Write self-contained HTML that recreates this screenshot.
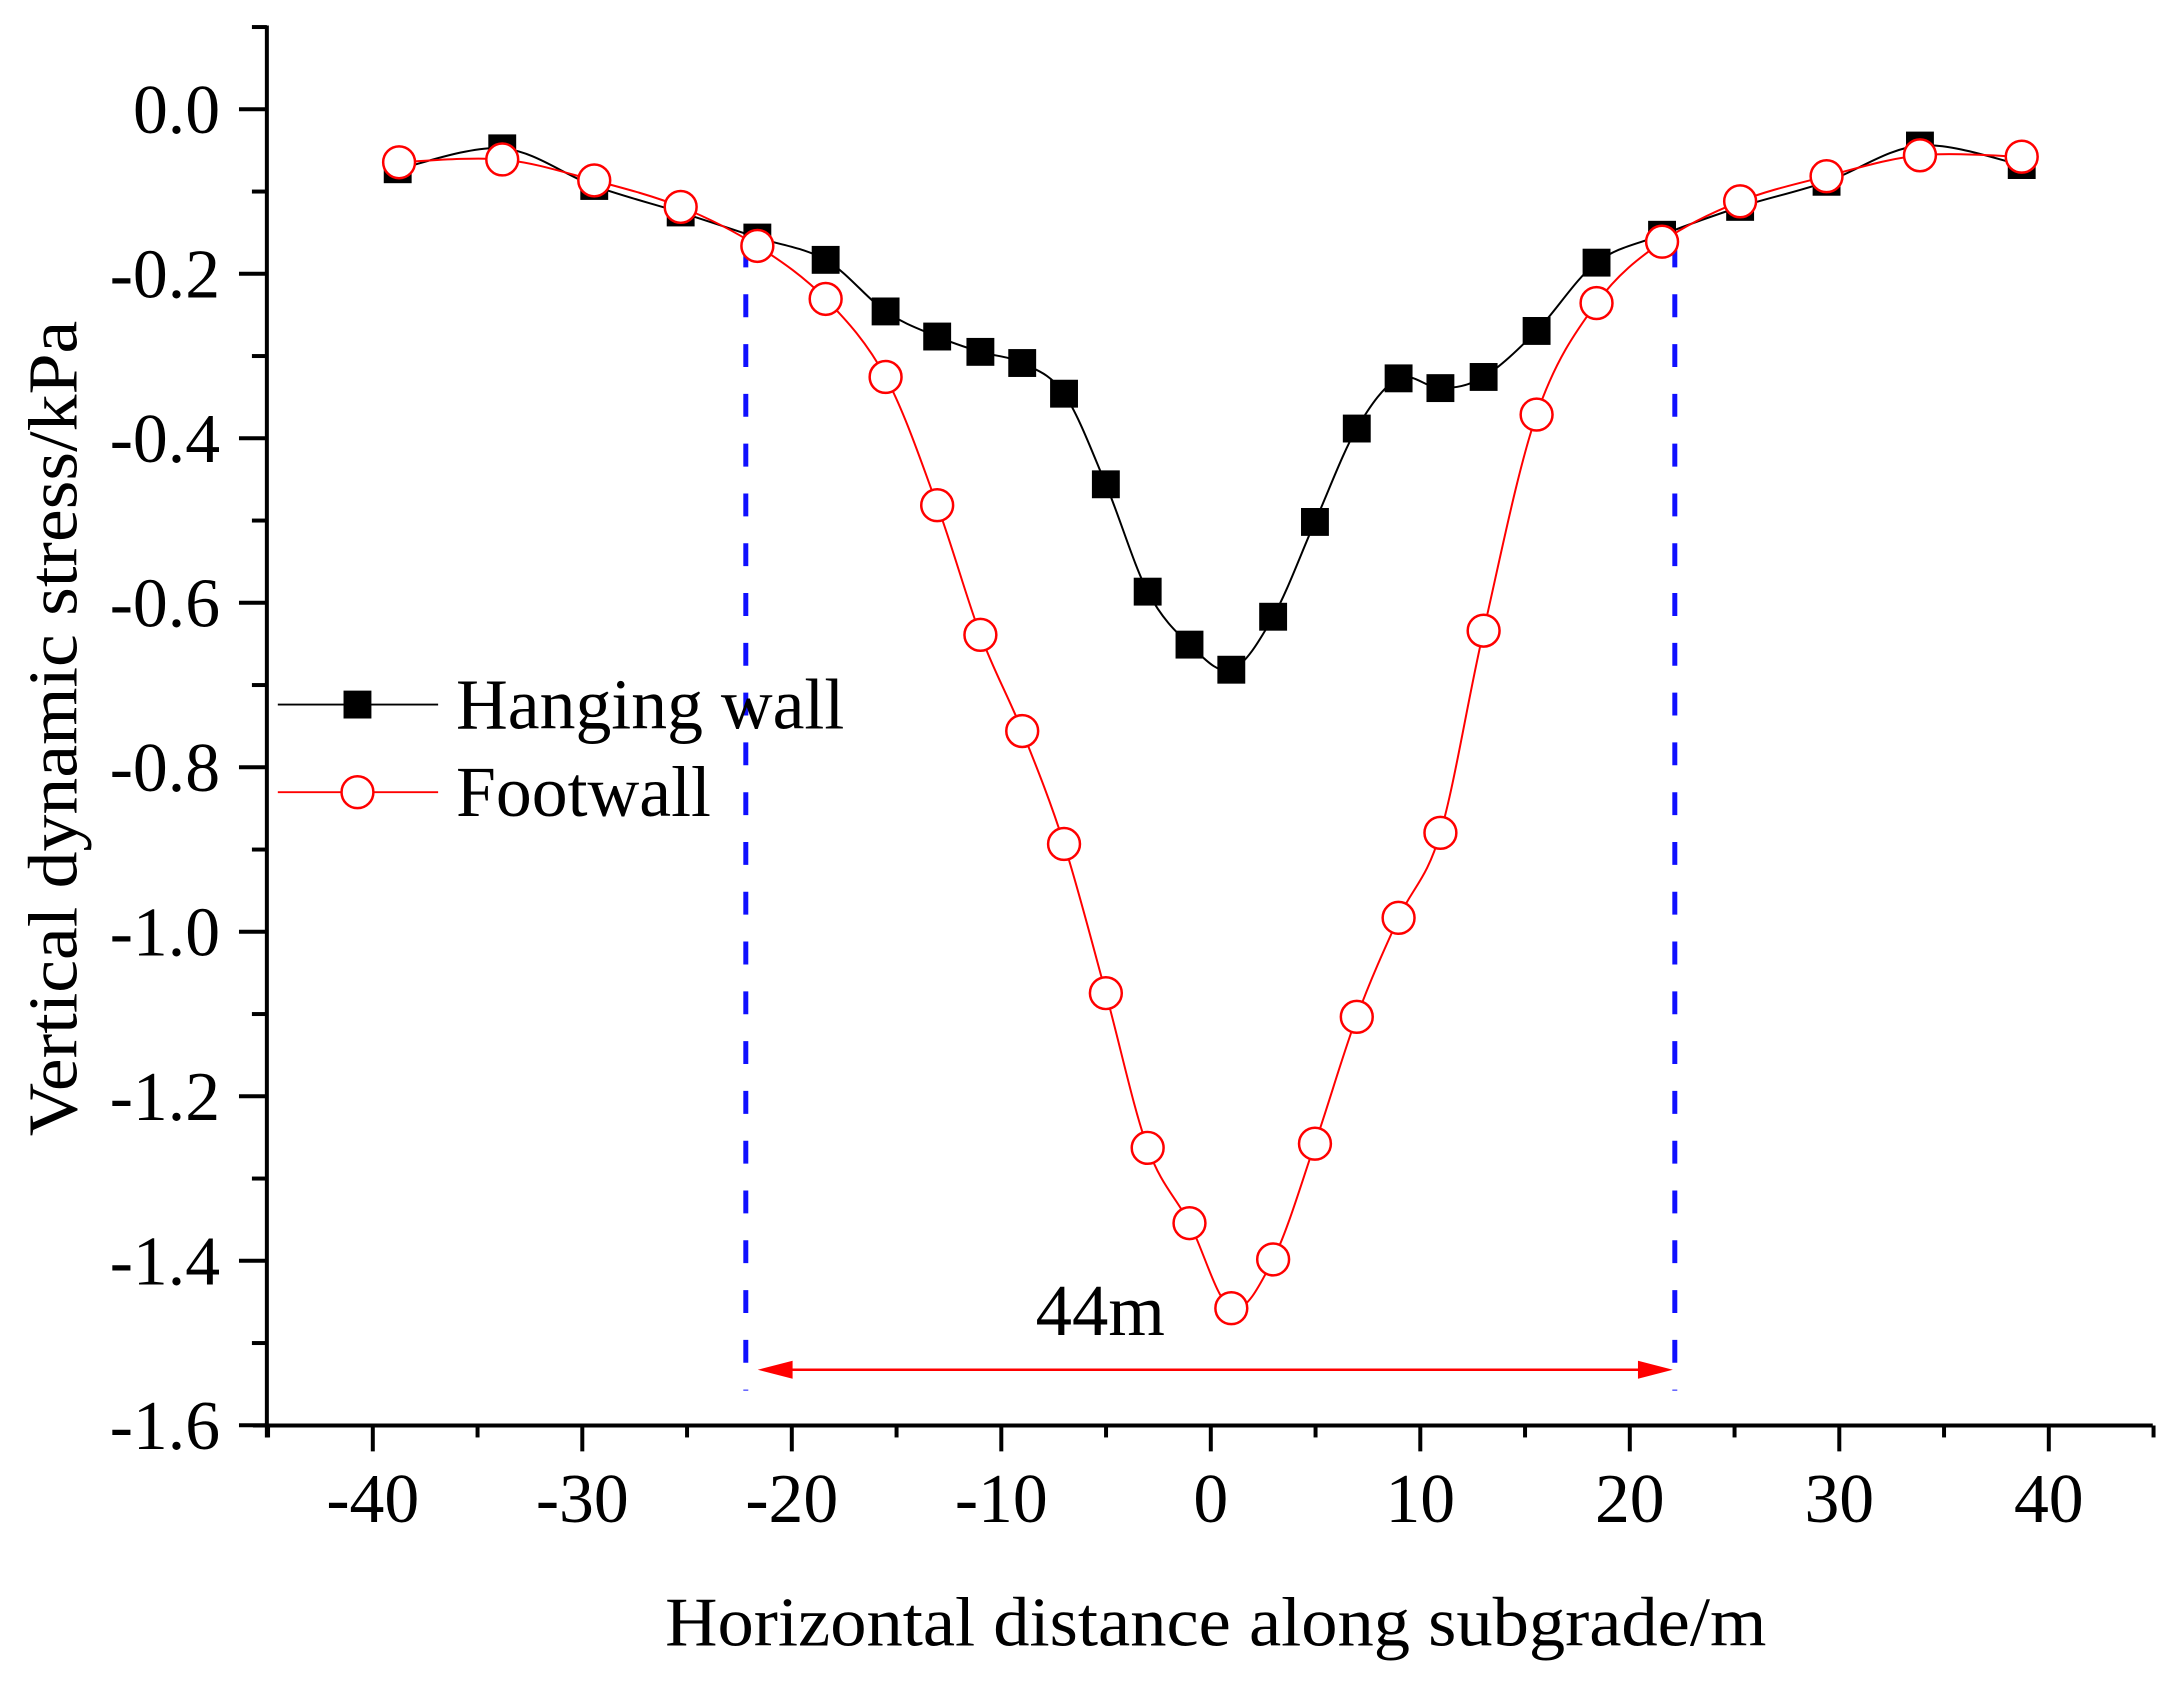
<!DOCTYPE html>
<html><head><meta charset="utf-8"><style>
html,body{margin:0;padding:0;background:#fff;}
svg{display:block;}
text{font-family:"Liberation Serif",serif;fill:#000;}
</style></head><body>
<svg id="s" width="2184" height="1687" viewBox="0 0 2184 1687" xmlns="http://www.w3.org/2000/svg">
<g transform="matrix(0.99572 0 0 0.99576 -0.99 0.56)">
<g id="axes" stroke="#000" stroke-width="4" fill="none"></g>
<g id="labels" font-size="70"></g>
<text x="1222" y="1652" font-size="70" text-anchor="middle" textLength="1106" lengthAdjust="spacingAndGlyphs">Horizontal distance along subgrade/m</text>
<text transform="translate(78,731) rotate(-90)" font-size="70" text-anchor="middle" textLength="819" lengthAdjust="spacingAndGlyphs">Vertical dynamic stress/kPa</text>
<line x1="750" y1="245" x2="750" y2="1396" stroke="#1010ff" stroke-width="5" stroke-dasharray="23 27"/>
<line x1="1683" y1="245" x2="1683" y2="1396" stroke="#1010ff" stroke-width="5" stroke-dasharray="23 27"/>
<line x1="780" y1="1375" x2="1660" y2="1375" stroke="#ff0000" stroke-width="2.5"/>
<polygon points="762,1375 797,1366 797,1384" fill="#ff0000"/>
<polygon points="1681,1375 1646,1366 1646,1384" fill="#ff0000"/>
<text x="1106" y="1340" font-size="73" text-anchor="middle">44m</text>
<g id="series"></g>
<line x1="280" y1="707" x2="441" y2="707" stroke="#000" stroke-width="2"/>
<rect x="346" y="693" width="28" height="28" fill="#000"/>
<text x="459" y="731" font-size="72">Hanging wall</text>
<line x1="280" y1="795" x2="441" y2="795" stroke="#ff0000" stroke-width="2"/>
<circle cx="360" cy="795" r="16" fill="#fff" stroke="#ff0000" stroke-width="2.5"/>
<text x="459" y="819" font-size="72">Footwall</text>
</g>
</svg>
<script>
var NS="http://www.w3.org/2000/svg";
function el(p,t,a,txt){var e=document.createElementNS(NS,t);for(var k in a)e.setAttribute(k,a[k]);if(txt!=null)e.textContent=txt;document.getElementById(p).appendChild(e);return e;}
var X=function(v){return 1217+21.04*v;}, Y=function(v){return 109.2-v*826;};
el("axes","line",{x1:269,y1:25,x2:269,y2:1443});
el("axes","line",{x1:255,y1:1431,x2:2163,y2:1431});
for(var i=0;i<=16;i++){var v=-i*0.1,y=Y(v);var maj=i%2==0;el("axes","line",{x1:maj?241:254,y1:y,x2:269,y2:y});
 if(maj)el("labels","text",{x:222,y:y+24,"text-anchor":"end"},(v==0?"0.0":v.toFixed(1)));}
el("axes","line",{x1:254,y1:Y(0.1),x2:269,y2:Y(0.1)});
for(var v=-45;v<=45;v+=5){var x=X(v);var maj=v%10==0;el("axes","line",{x1:x,y1:1431,x2:x,y2:maj?1457:1443});
 if(maj)el("labels","text",{x:x,y:1528,"text-anchor":"middle"},String(v));}
var H=[[286,121],[361,106],[427,133],[489,152],[544,170],[593,186],[636,223],[673,241],[704,252],[734,260],[764,282],[794,347],[824,424],[854,462],[884,480],[914,442],[944,374],[974,307],[1004,271],[1034,278],[1065,270],[1103,237],[1146,188],[1193,168],[1249,148],[1311,130],[1378,104],[1451,118]];
var F=[[287,116],[361,114],[427,129],[489,148],[544,176],[593,214],[636,270],[673,362],[704,455],[734,524],[764,605],[794,712],[824,823],[854,877],[884,938],[914,903],[944,820],[974,729],[1004,658],[1034,597],[1065,452],[1103,297],[1146,217],[1193,173],[1249,144],[1311,126],[1378,111],[1451,112]];
function sc(a){return a.map(function(p){return [p[0]*1.4,p[1]*1.4];});}
H=sc(H);F=sc(F);
function spline(P){var d="M"+P[0][0]+","+P[0][1];for(var i=0;i<P.length-1;i++){var p0=P[i-1]||P[i],p1=P[i],p2=P[i+1],p3=P[i+2]||P[i+1];
 var c1=[p1[0]+(p2[0]-p0[0])/6,p1[1]+(p2[1]-p0[1])/6],c2=[p2[0]-(p3[0]-p1[0])/6,p2[1]-(p3[1]-p1[1])/6];
 d+=" C"+c1[0].toFixed(1)+","+c1[1].toFixed(1)+" "+c2[0].toFixed(1)+","+c2[1].toFixed(1)+" "+p2[0].toFixed(1)+","+p2[1].toFixed(1);}return d;}
el("series","path",{d:spline(H),fill:"none",stroke:"#000","stroke-width":2});
el("series","path",{d:spline(F),fill:"none",stroke:"#ff0000","stroke-width":2});
H.forEach(function(p){el("series","rect",{x:p[0]-14,y:p[1]-14,width:28,height:28,fill:"#000"});});
F.forEach(function(p){el("series","circle",{cx:p[0],cy:p[1],r:16,fill:"#fff",stroke:"#ff0000","stroke-width":2.5});});
</script>
</body></html>
